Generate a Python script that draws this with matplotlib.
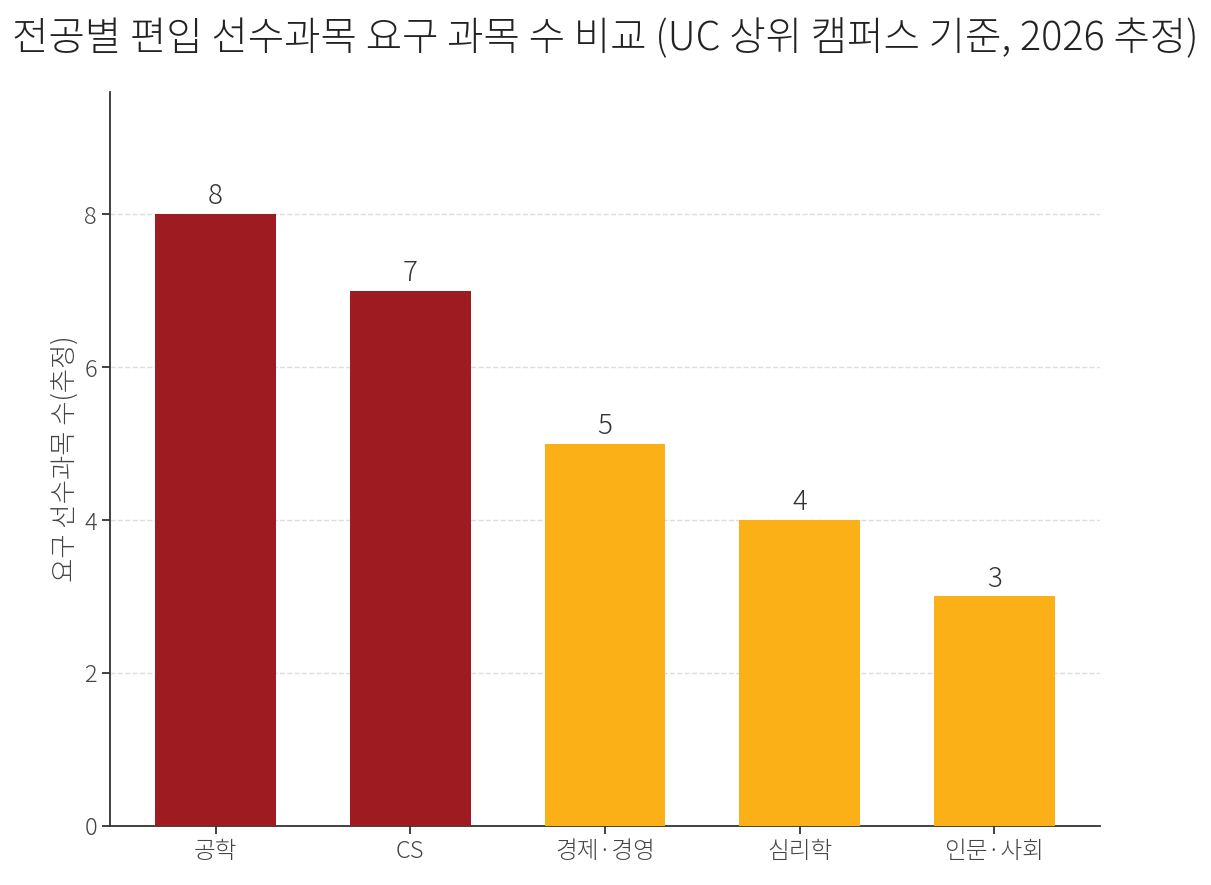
import matplotlib
matplotlib.use('Agg')
import matplotlib.pyplot as plt

plt.rcParams['font.family'] = ['Noto Sans CJK JP', 'DejaVu Sans']
plt.rcParams['font.weight'] = 'light'
plt.rcParams['axes.titleweight'] = 'light'
plt.rcParams['axes.labelweight'] = 'light'

# data
majors = ['공학', 'CS', '경제·경영', '심리학', '인문·사회']
counts = [8, 7, 5, 4, 3]
colors = ['#9E1B22', '#9E1B22', '#FBB017', '#FBB017', '#FBB017']

fig, ax = plt.subplots(figsize=(12.11, 8.85), dpi=100)
fig.subplots_adjust(left=0.091, right=0.908, top=0.896, bottom=0.067)

bars = ax.bar(majors, counts, width=0.62, color=colors, zorder=3)
for b, v in zip(bars, counts):
    ax.text(b.get_x() + b.get_width() / 2, v + 0.05, str(v),
            ha='center', va='bottom', fontsize=20, color='#333333')

ax.set_ylim(0, max(counts) * 1.2)
ax.set_yticks([0, 2, 4, 6, 8])
ax.yaxis.grid(True, linestyle='--', color='#dddddd', linewidth=1, zorder=0)
ax.set_axisbelow(True)

for s in ['top', 'right']:
    ax.spines[s].set_visible(False)
for s in ['left', 'bottom']:
    ax.spines[s].set_color('#333333')
    ax.spines[s].set_linewidth(1.3)
ax.tick_params(colors='#333333', labelsize=17, length=6, width=1.3, labelcolor='#444444')

ax.set_ylabel('요구 선수과목 수(추정)', fontsize=19, color='#444444')
ax.set_title('전공별 편입 선수과목 요구 과목 수 비교 (UC 상위 캠퍼스 기준, 2026 추정)',
             fontsize=28.5, color='#222222', pad=30)

fig.savefig('out.png', dpi=100)
